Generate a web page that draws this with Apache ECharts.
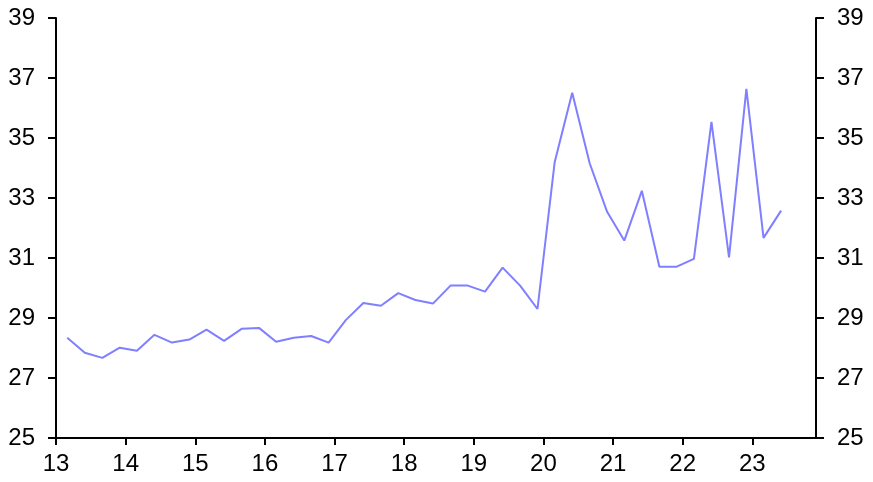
<!DOCTYPE html>
<html>
<head>
<meta charset="utf-8">
<script src="https://cdn.jsdelivr.net/npm/echarts@6/dist/echarts.min.js"></script>
<style>
html,body{margin:0;padding:0;background:#fff;}
#chart{width:873px;height:482px;}
</style>
</head>
<body>
<div id="chart"></div>
<script>
// Quarterly observations (date of point)
var dates = [
  '2013-03','2013-06','2013-09','2013-12',
  '2014-03','2014-06','2014-09','2014-12',
  '2015-03','2015-06','2015-09','2015-12',
  '2016-03','2016-06','2016-09','2016-12',
  '2017-03','2017-06','2017-09','2017-12',
  '2018-03','2018-06','2018-09','2018-12',
  '2019-03','2019-06','2019-09','2019-12',
  '2020-03','2020-06','2020-09','2020-12',
  '2021-03','2021-06','2021-09','2021-12',
  '2022-03','2022-06','2022-09','2022-12',
  '2023-03','2023-06'
];
var values = [
  28.34, 27.84, 27.67, 28.01,
  27.91, 28.44, 28.18, 28.28,
  28.61, 28.24, 28.64, 28.67,
  28.21, 28.34, 28.40, 28.18,
  28.93, 29.50, 29.41, 29.83,
  29.60, 29.48, 30.08, 30.08,
  29.88, 30.68, 30.08, 29.30,
  34.19, 36.51, 34.15, 32.54,
  31.58, 33.24, 30.71, 30.71,
  30.97, 35.54, 31.02, 36.64,
  31.67, 32.58
];
var xTickLabels = ['13','14','15','16','17','18','19','20','21','22','23'];
var yTicks = [25, 27, 29, 31, 33, 35, 37, 39];
var xStart = '2013-01';
var xEnd = '2023-12';

var cumDays = [0,31,59,90,120,151,181,212,243,273,304,334];
function toYear(s) {
  var p = s.split('-');
  return (parseInt(p[0], 10) - 2000) + cumDays[parseInt(p[1], 10) - 1] / 365;
}
var seriesData = dates.map(function (d, i) { return [toYear(d), values[i]]; });
var xTickValues = xTickLabels.map(function (t) { return parseInt(t, 10); });

var font = '"Liberation Sans", Arial, sans-serif';
var axisColor = '#000';

function yAxis(pos) {
  return {
    type: 'value',
    position: pos,
    min: yTicks[0],
    max: yTicks[yTicks.length - 1],
    interval: 2,
    axisLine: { show: true, lineStyle: { color: axisColor, width: 2 } },
    axisTick: { show: true, length: 8, lineStyle: { color: axisColor, width: 2 } },
    axisLabel: { color: '#000', fontSize: 24, fontFamily: font, margin: 21 },
    splitLine: { show: false }
  };
}

var chart = echarts.init(document.getElementById('chart'), null, { renderer: 'canvas' });
chart.setOption({
  animation: false,
  backgroundColor: '#fff',
  grid: { left: 56, right: 57, top: 18, bottom: 44, containLabel: false },
  xAxis: {
    type: 'value',
    min: toYear(xStart),
    max: toYear(xEnd),
    interval: 1,
    axisLine: { show: true, onZero: false, lineStyle: { color: axisColor, width: 2 } },
    axisTick: { show: true, length: 7, customValues: xTickValues, lineStyle: { color: axisColor, width: 2 } },
    axisLabel: {
      color: '#000', fontSize: 24, fontFamily: font, margin: 14,
      customValues: xTickValues,
      formatter: function (v) { return String(Math.round(v)); }
    },
    splitLine: { show: false }
  },
  yAxis: [yAxis('left'), yAxis('right')],
  series: [{
    type: 'line',
    data: seriesData,
    yAxisIndex: 0,
    showSymbol: false,
    symbol: 'none',
    lineStyle: { color: '#7f7fff', width: 2 },
    itemStyle: { color: '#7f7fff' }
  }]
});
</script>
</body>
</html>
